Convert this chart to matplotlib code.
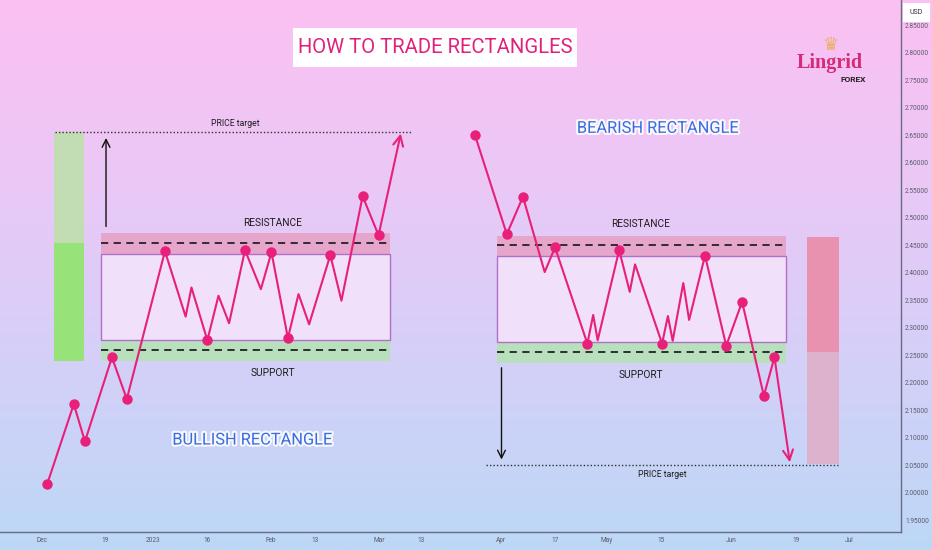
import numpy as np
import matplotlib
matplotlib.use("Agg")
import matplotlib.pyplot as plt
from matplotlib.patches import Rectangle
from matplotlib.colors import LinearSegmentedColormap
import matplotlib.patheffects as pe

# ---------------- data ----------------
# x in trading-bar index (0 = 1 Dec 2022), y = price
bull_x = [1.0, 6.0, 8.1, 13.2, 16.0, 23.2, 27.1, 28.2, 31.2, 33.3, 35.3, 38.3,
          41.3, 43.3, 46.4, 48.4, 50.4, 54.4, 56.5, 60.5, 63.5, 67.7]
bull_y = [2.016, 2.161, 2.093, 2.246, 2.170, 2.439, 2.320, 2.373, 2.277, 2.358,
          2.308, 2.441, 2.370, 2.437, 2.281, 2.361, 2.306, 2.432, 2.349, 2.539,
          2.468, 2.653]
bull_marked = [0, 1, 2, 3, 4, 5, 8, 11, 13, 14, 17, 19, 20]

bear_x = [81.7, 87.7, 90.75, 94.85, 96.8, 102.9, 104.0, 104.85, 108.9, 110.9,
          111.9, 117.0, 118.1, 119.0, 121.0, 122.1, 125.1, 129.1, 132.1, 136.2,
          138.2, 141.1]
bear_y = [2.650, 2.470, 2.538, 2.401, 2.446, 2.271, 2.323, 2.277, 2.441, 2.365,
          2.415, 2.271, 2.321, 2.276, 2.381, 2.314, 2.431, 2.267, 2.347, 2.176,
          2.246, 2.055]
bear_marked = [0, 1, 2, 4, 5, 8, 11, 16, 17, 18, 19, 20]

# rectangle zones: [x0, x1, res_top, res_line, res_bottom, sup_top, sup_line, sup_bottom]
bull_zone = [11.07, 65.66, 2.4715, 2.4544, 2.434, 2.2774, 2.2598, 2.2398]
bear_zone = [85.8, 140.3, 2.4672, 2.4502, 2.4302, 2.2733, 2.2556, 2.2351]

# measurement bars: [x0, x1, top, mid, bottom]
bull_bar = [2.26, 7.92, 2.6558, 2.4544, 2.2398]
bear_bar = [144.4, 150.4, 2.4653, 2.2562, 2.0514]

bull_target = 2.656
bear_target = 2.050

x_tick_pos = [0, 11.9, 20.9, 31.1, 43.2, 51.5, 63.6, 71.5, 86.6, 96.8, 106.6,
              116.8, 130.0, 142.3, 152.3]
x_tick_lab = ["Dec", "19", "2023", "16", "Feb", "13", "Mar", "13", "Apr", "17",
              "May", "15", "Jun", "19", "Jul"]
y_ticks = [1.95, 2.00, 2.05, 2.10, 2.15, 2.20, 2.25, 2.30, 2.35, 2.40, 2.45,
           2.50, 2.55, 2.60, 2.65, 2.70, 2.75, 2.80, 2.85]

# ---------------- figure ----------------
W, H = 932, 550
fig = plt.figure(figsize=(W / 100, H / 100), dpi=100)

FONT = ["Roboto", "DejaVu Sans"]

# background gradient
bg = fig.add_axes([0, 0, 1, 1], zorder=-10)
cmap = LinearSegmentedColormap.from_list(
    "bg", ["#fbc0f2", "#eac8f6", "#d4d0f8", "#bcd8f6"])
grad = np.linspace(0, 1, 256).reshape(-1, 1)
bg.imshow(grad, aspect="auto", cmap=cmap, extent=[0, 1, 0, 1], origin="upper")
bg.set_axis_off()

ax = fig.add_axes([0.0, (H - 531.7) / H, 901 / W, 531.7 / H])
ax.set_facecolor("none")
ax.set_xlim(-7.925, 162.08)
ax.set_ylim(1.9288, 2.8959)

for s in ["top", "left"]:
    ax.spines[s].set_visible(False)
for s in ["right", "bottom"]:
    ax.spines[s].set_color("#6a6a80")
    ax.spines[s].set_linewidth(1.0)
ax.yaxis.tick_right()
ax.set_yticks(y_ticks)
ax.set_yticklabels([f"{v:.5f}" for v in y_ticks])
ax.set_xticks(x_tick_pos)
ax.set_xticklabels(x_tick_lab)
ax.tick_params(axis="both", length=0, labelsize=4.7, colors="#5a5a6a")
ax.tick_params(axis="y", pad=3)
ax.tick_params(axis="x", pad=4)
for lab in ax.get_xticklabels() + ax.get_yticklabels():
    lab.set_family(FONT)

PINK_BAND = "#e6a6cc"
INNER = "#f0e0fa"
GREEN_BAND = "#b8e0bc"
BORDER = "#b070c8"
LINE = "#e8207a"


def zone(z):
    x0, x1, rt, rl, rb, st, sl, sb = z
    ax.add_patch(Rectangle((x0, rb), x1 - x0, rt - rb, facecolor=PINK_BAND,
                           edgecolor="none", zorder=1))
    ax.add_patch(Rectangle((x0, sb), x1 - x0, st - sb, facecolor=GREEN_BAND,
                           edgecolor="none", zorder=1))
    ax.add_patch(Rectangle((x0, st), x1 - x0, rb - st, facecolor=INNER,
                           edgecolor=BORDER, linewidth=1.0, zorder=1))
    ax.plot([x0, x1], [rl, rl], color="#222222", lw=1.3, ls=(0, (4, 3)), zorder=2)
    ax.plot([x0, x1], [sl, sl], color="#222222", lw=1.3, ls=(0, (4, 3)), zorder=2)


zone(bull_zone)
zone(bear_zone)

# measurement bars
x0, x1, t, m, b = bull_bar
ax.add_patch(Rectangle((x0, m), x1 - x0, t - m, facecolor="#c2dcb4",
                       edgecolor="none", zorder=1))
ax.add_patch(Rectangle((x0, b), x1 - x0, m - b, facecolor="#98e27a",
                       edgecolor="none", zorder=1))
x0, x1, t, m, b = bear_bar
ax.add_patch(Rectangle((x0, m), x1 - x0, t - m, facecolor="#e892b0",
                       edgecolor="none", zorder=1))
ax.add_patch(Rectangle((x0, b), x1 - x0, m - b, facecolor="#dcb2cc",
                       edgecolor="none", zorder=1))

# price target dotted lines
ax.plot([2.45, 69.6], [bull_target, bull_target], color="#333333", lw=1.0,
        ls=(0, (1, 1.5)), zorder=2)
ax.plot([83.8, 150.2], [bear_target, bear_target], color="#333333", lw=1.0,
        ls=(0, (1, 1.5)), zorder=2)

# black arrows
ax.annotate("", xy=(12.08, 2.650), xytext=(12.08, 2.479),
            arrowprops=dict(arrowstyle="->", color="#111111", lw=1.0,
                            mutation_scale=14), zorder=3)
ax.annotate("", xy=(86.7, 2.055), xytext=(86.7, 2.232),
            arrowprops=dict(arrowstyle="->", color="#111111", lw=1.0,
                            mutation_scale=14), zorder=3)

# price paths
for xs, ys, mk in [(bull_x, bull_y, bull_marked), (bear_x, bear_y, bear_marked)]:
    ax.plot(xs[:-1], ys[:-1], color=LINE, lw=1.5, zorder=4)
    ax.annotate("", xy=(xs[-1], ys[-1]), xytext=(xs[-2], ys[-2]),
                arrowprops=dict(arrowstyle="->", color=LINE, lw=1.5,
                                mutation_scale=18, shrinkA=0, shrinkB=0),
                zorder=4)
    ax.plot([xs[i] for i in mk], [ys[i] for i in mk], "o", color=LINE,
            markersize=7.5, markeredgewidth=0, zorder=5)

# labels
lab_kw = dict(ha="center", va="center", color="#1e1e1e", family=FONT, zorder=6)
ax.text(43.5, 2.491, "RESISTANCE", fontsize=7.3, **lab_kw)
ax.text(43.5, 2.218, "SUPPORT", fontsize=7.3, **lab_kw)
ax.text(113.0, 2.488, "RESISTANCE", fontsize=7.3, **lab_kw)
ax.text(113.0, 2.2138, "SUPPORT", fontsize=7.3, **lab_kw)
ax.text(36.4, 2.671, "PRICE target", fontsize=6.2, **lab_kw)
ax.text(117.0, 2.032, "PRICE target", fontsize=6.2, **lab_kw)

glow = [pe.withStroke(linewidth=3, foreground="white", alpha=0.85)]
ax.text(39.6, 2.0956, "BULLISH RECTANGLE", ha="center", va="center",
        fontsize=11.8, color="#3a6ee0", family=FONT, zorder=6,
        path_effects=glow)
ax.text(116.1, 2.6625, "BEARISH RECTANGLE", ha="center", va="center",
        fontsize=11.8, color="#3a6ee0", family=FONT, zorder=6,
        path_effects=glow)

# title box
fig.patches.append(Rectangle((293 / W, 1 - 67 / H), (577 - 293) / W, 39 / H,
                             transform=fig.transFigure, facecolor="white",
                             edgecolor="none", zorder=5))
fig.text(435 / W, 1 - 47.5 / H, "HOW TO TRADE RECTANGLES", ha="center",
         va="center", fontsize=14.6, color="#e0207a", family=FONT, zorder=6)

# logo
fig.text(830 / W, 1 - 45 / H, "\u265b", ha="center", va="center", fontsize=13,
         color="#e8b060", zorder=6)
fig.text(830 / W, 1 - 63 / H, "Lingrid", ha="center", va="center",
         fontsize=14.5, color="#d42a78", weight="bold",
         family=["Liberation Serif", "DejaVu Serif"], zorder=6)
fig.text(853 / W, 1 - 79 / H, "FOREX", ha="center", va="center", fontsize=6,
         color="#222222", weight="bold", family=FONT, zorder=6)

# USD box
fig.patches.append(Rectangle((903 / W, 1 - 22 / H), 27 / W, 19 / H,
                             transform=fig.transFigure, facecolor="white",
                             edgecolor="none", zorder=5))
fig.text(916 / W, 1 - 12.5 / H, "USD", ha="center", va="center", fontsize=5,
         color="#333333", family=FONT, zorder=6)

fig.savefig("out.png", dpi=100)
